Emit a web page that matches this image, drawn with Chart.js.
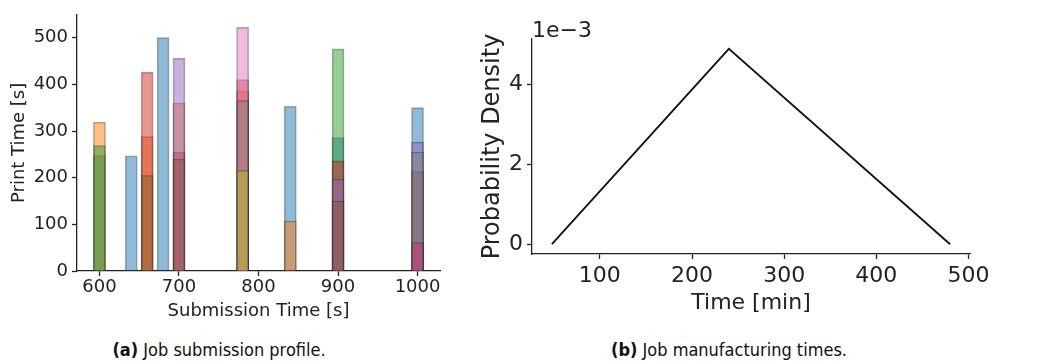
<!DOCTYPE html>
<html>
<head>
<meta charset="utf-8">
<script src="https://cdn.jsdelivr.net/npm/chart.js@4.4.0/dist/chart.umd.min.js"></script>
<style>
    body { margin: 0; background: #fff; width: 1057px; height: 363px; position: relative; overflow: hidden; }
    .box { position: absolute; top: 0; }
    #left_box { left: 0; width: 450px; height: 330px; }
    #right_box { left: 470px; width: 587px; height: 330px; }
    .cap { position: absolute; top: 339px; font-family: 'Liberation Sans Narrow', 'DejaVu Sans Condensed', sans-serif;
        font-size: 18px; color: #111; white-space: nowrap; transform: translateX(-50%); }
</style>
</head>
<body>
<div class="box" id="left_box"><canvas id="submit_chart" width="450" height="330"></canvas></div>
<div class="box" id="right_box"><canvas id="time_chart" width="587" height="330"></canvas></div>
<div class="cap" style="left:219px"><b>(a)</b> Job submission profile.</div>
<div class="cap" style="left:729px"><b>(b)</b> Job manufacturing times.</div>
<script>
// submission times of the bars [s]
let submit_times = [600, 640, 660, 680, 700, 780, 840, 900, 1000]

// print time [s] per job group, null = no job at that time
let blue_jobs   = [248, 247, null, 500, null, null, 353, 286, 350]
let orange_jobs = [319, null, 288, null, 360, 386, 107, null, null]
let green_jobs  = [269, null, 205, null, null, null, null, 476, null]
let red_jobs    = [null, null, 426, null, 255, 410, null, 236, null]
let purple_jobs = [null, null, null, null, 456, null, null, 197, 276]
let brown_jobs  = [null, null, null, null, 240, null, null, 150, 213]
let pink_jobs   = [null, null, null, null, null, 522, null, null, null]
let gray_jobs   = [null, null, null, null, null, 365, null, null, 255]
let olive_jobs  = [null, null, null, null, null, 215, null, null, null]
let late_jobs   = [null, null, null, null, null, null, null, null, 61]

let submit_y_ticks = [0, 100, 200, 300, 400, 500]
let submit_x_ticks = [600, 700, 800, 900, 1000]

// manufacturing time density (triangle)
let time_min = [48, 240, 480]
let density = [0, 0.0049, 0]
let time_ticks = [100, 200, 300, 400, 500]
let density_ticks = [0, 0.002, 0.004]

let groups = [
    [blue_jobs, '31,119,180'],
    [orange_jobs, '255,127,14'],
    [green_jobs, '44,160,44'],
    [red_jobs, '214,39,40'],
    [purple_jobs, '148,103,189'],
    [brown_jobs, '140,86,75'],
    [pink_jobs, '227,119,194'],
    [gray_jobs, '127,127,127'],
    [olive_jobs, '188,189,34'],
    [late_jobs, '205,48,107']
]

let font_name = "'DejaVu Sans', sans-serif"
let ink = '#222'

function points(values) {
    let out = []
    for (let i = 0; i < submit_times.length; i++) {
        if (values[i] !== null) out.push({x: submit_times[i], y: values[i]})
    }
    return out
}

function fixed_ticks(list) {
    return function (scale) {
        scale.ticks = list.map(v => ({value: v}))
    }
}

let bar_sets = []
for (let i = 0; i < groups.length; i++) {
    bar_sets.push({
        data: points(groups[i][0]),
        backgroundColor: 'rgba(' + groups[i][1] + ',0.5)',
        borderColor: 'rgba(30,30,30,0.4)',
        borderWidth: 1,
        barThickness: 12,
        grouped: false,
        order: -i
    })
}

let small = {family: font_name, size: 18}

new Chart(document.getElementById('submit_chart').getContext('2d'), {
    type: 'bar',
    data: {datasets: bar_sets},
    options: {
        responsive: false,
        animation: false,
        layout: {padding: {top: 12, right: 10, left: 0, bottom: 0}},
        plugins: {legend: {display: false}, tooltip: {enabled: false}},
        scales: {
            x: {
                type: 'linear', min: 571.75, max: 1028.25, offset: false,
                afterBuildTicks: fixed_ticks(submit_x_ticks),
                afterFit: s => { s.height = 59 },
                ticks: {font: small, color: ink, padding: 1, maxRotation: 0, autoSkip: false, callback: v => String(v)},
                grid: {offset: false, drawOnChartArea: false, tickLength: 5, tickColor: ink, tickWidth: 1.3},
                border: {color: ink, width: 1.3},
                title: {display: true, text: 'Submission Time [s]', font: small, color: ink, padding: {top: 0, bottom: 8}}
            },
            y: {
                min: 0, max: 549,
                afterBuildTicks: fixed_ticks(submit_y_ticks),
                afterFit: s => { s.width = 77 },
                ticks: {font: small, color: ink, padding: 4, callback: v => String(v)},
                grid: {drawOnChartArea: false, tickLength: 5, tickColor: ink, tickWidth: 1.3},
                border: {color: ink, width: 1.3},
                title: {display: true, text: 'Print Time [s]', font: small, color: ink, padding: {top: 9, bottom: 0}}
            }
        }
    }
})

let big = {family: font_name, size: 22}

let offset_label = {
    id: 'offset_label',
    afterDraw(chart) {
        let c = chart.ctx
        let a = chart.chartArea
        c.save()
        c.font = "22px 'DejaVu Sans'"
        c.fillStyle = ink
        c.textBaseline = 'alphabetic'
        c.fillText('1e\u22123', a.left, a.top - 2)
        c.restore()
    }
}

new Chart(document.getElementById('time_chart').getContext('2d'), {
    type: 'line',
    data: {
        datasets: [{
            data: time_min.map((t, i) => ({x: t, y: density[i]})),
            borderColor: '#111',
            borderWidth: 1.8,
            pointRadius: 0,
            tension: 0,
            fill: false
        }]
    },
    options: {
        responsive: false,
        animation: false,
        layout: {padding: {top: 39, right: 87, left: 0, bottom: 0}},
        plugins: {legend: {display: false}, tooltip: {enabled: false}},
        scales: {
            x: {
                type: 'linear', min: 26.4, max: 501.6,
                afterBuildTicks: fixed_ticks(time_ticks),
                afterFit: s => { s.height = 76 },
                ticks: {font: big, color: ink, padding: 4, maxRotation: 0, autoSkip: false, callback: v => String(v)},
                grid: {drawOnChartArea: false, tickLength: 5, tickColor: ink, tickWidth: 1.3},
                border: {color: ink, width: 1.3},
                title: {display: true, text: 'Time [min]', font: big, color: ink, padding: {top: 0, bottom: 14}}
            },
            y: {
                min: -0.000245, max: 0.005145,
                afterBuildTicks: fixed_ticks(density_ticks),
                afterFit: s => { s.width = 62 },
                ticks: {font: big, color: ink, padding: 4, callback: v => String(Math.round(v * 1000))},
                grid: {drawOnChartArea: false, tickLength: 5, tickColor: ink, tickWidth: 1.3},
                border: {color: ink, width: 1.3},
                title: {display: true, text: 'Probability Density', font: {family: font_name, size: 24}, color: ink, padding: {top: 8, bottom: 0}}
            }
        }
    },
    plugins: [offset_label]
})
</script>
</body>
</html>
